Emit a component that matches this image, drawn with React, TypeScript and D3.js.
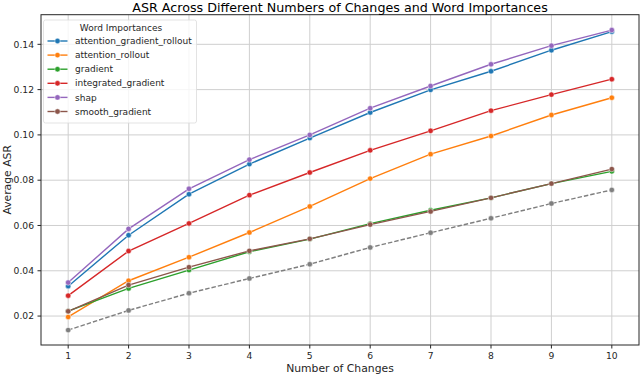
import * as d3 from 'd3';

const changes = [1, 2, 3, 4, 5, 6, 7, 8, 9, 10];

const attentionGradientRollout = [0.0332, 0.0557, 0.0738, 0.0871, 0.0986, 0.1099, 0.1199, 0.1281, 0.1374, 0.1456];
const attentionRollout = [0.0196, 0.0356, 0.0460, 0.0569, 0.0684, 0.0807, 0.0915, 0.0995, 0.1088, 0.1164];
const gradient = [0.0222, 0.0322, 0.0403, 0.0484, 0.0540, 0.0608, 0.0667, 0.0722, 0.0785, 0.0839];
const integratedGradient = [0.0290, 0.0487, 0.0609, 0.0734, 0.0834, 0.0932, 0.1018, 0.1107, 0.1178, 0.1246];
const shap = [0.0348, 0.0585, 0.0762, 0.0891, 0.1000, 0.1118, 0.1216, 0.1312, 0.1394, 0.1463];
const smoothGradient = [0.0221, 0.0337, 0.0416, 0.0488, 0.0541, 0.0604, 0.0662, 0.0722, 0.0785, 0.0849];
const baseline = [0.0138, 0.0225, 0.0301, 0.0366, 0.0429, 0.0503, 0.0568, 0.0632, 0.0697, 0.0757];

const series = [
  {name: 'attention_gradient_rollout', values: attentionGradientRollout, color: '#1f77b4'},
  {name: 'attention_rollout', values: attentionRollout, color: '#ff7f0e'},
  {name: 'gradient', values: gradient, color: '#2ca02c'},
  {name: 'integrated_gradient', values: integratedGradient, color: '#d62728'},
  {name: 'shap', values: shap, color: '#9467bd'},
  {name: 'smooth_gradient', values: smoothGradient, color: '#8c564b'},
];

const yTicks = [0.02, 0.04, 0.06, 0.08, 0.10, 0.12, 0.14];

const W = 640, H = 375;
const m = {left: 41, right: 1, top: 14.7, bottom: 30};
const font = 'DejaVu Sans, sans-serif';

export default function App() {
  const x = d3.scaleLinear().domain([0.55, 10.45]).range([m.left, W - m.right]);
  const y = d3.scaleLinear().domain([0.00722, 0.15308]).range([H - m.bottom, m.top]);
  const line = d3.line<number>().x((_, i) => x(changes[i])).y(d => y(d));

  const all = [...series, {name: 'baseline', values: baseline, color: '#7f7f7f', dashed: true}];

  return (
    <svg width={W} height={H} style={{position: 'absolute', left: 0, top: 0}} fontFamily={font}>
      <rect width={W} height={H} fill="#fff" />
      {/* grid */}
      {changes.map(c => (
        <line key={'gx' + c} x1={x(c)} x2={x(c)} y1={m.top} y2={H - m.bottom} stroke="#cfcfcf" strokeWidth={1} />
      ))}
      {yTicks.map(t => (
        <line key={'gy' + t} x1={m.left} x2={W - m.right} y1={y(t)} y2={y(t)} stroke="#cfcfcf" strokeWidth={1} />
      ))}
      {/* lines */}
      {all.map((s: any) => (
        <g key={s.name}>
          <path d={line(s.values) || ''} fill="none" stroke={s.color} strokeWidth={1.4}
            strokeDasharray={s.dashed ? '4.5,2' : undefined} />
          {s.values.map((v: number, i: number) => (
            <circle key={i} cx={x(changes[i])} cy={y(v)} r={2.7} fill={s.color} stroke="#fff" strokeWidth={0.5} />
          ))}
        </g>
      ))}
      {/* frame */}
      <rect x={m.left} y={m.top} width={W - m.right - m.left} height={H - m.bottom - m.top} fill="none" stroke="#262626" strokeWidth={1} />
      {/* x ticks */}
      {changes.map(c => (
        <g key={'xt' + c}>
          <line x1={x(c)} x2={x(c)} y1={H - m.bottom} y2={H - m.bottom + 3.5} stroke="#262626" />
          <text x={x(c)} y={359} fontSize={9.2} textAnchor="middle" fill="#262626">{c}</text>
        </g>
      ))}
      {yTicks.map(t => (
        <g key={'yt' + t}>
          <line x1={m.left - 3.5} x2={m.left} y1={y(t)} y2={y(t)} stroke="#262626" />
          <text x={m.left - 7} y={y(t)} dy="0.35em" fontSize={9.2} textAnchor="end" fill="#262626">{d3.format('.2f')(t)}</text>
        </g>
      ))}
      <text x={(m.left + W - m.right) / 2} y={372} fontSize={10.8} textAnchor="middle" fill="#262626">Number of Changes</text>
      <text transform={`translate(11,${(m.top + H - m.bottom) / 2}) rotate(-90)`} fontSize={10.8} textAnchor="middle" fill="#262626">Average ASR</text>
      <text x={(m.left + W - m.right) / 2} y={11.5} fontSize={12.7} textAnchor="middle" fill="#000">ASR Across Different Numbers of Changes and Word Importances</text>
      {/* legend */}
      <g>
        <rect x={43.5} y={20} width={153} height={103} rx={2} fill="#fff" fillOpacity={0.8} stroke="#dcdcdc" strokeWidth={0.8} />
        <text x={121} y={30.5} fontSize={9} textAnchor="middle" fill="#262626">Word Importances</text>
        {series.map((s, i) => {
          const ly = 41 + i * 14.1;
          return (
            <g key={'lg' + s.name}>
              <line x1={47.5} x2={67.5} y1={ly} y2={ly} stroke={s.color} strokeWidth={1.4} />
              <circle cx={57.5} cy={ly} r={2.7} fill={s.color} stroke="#fff" strokeWidth={0.5} />
              <text x={75} y={ly} dy="0.35em" fontSize={9} fill="#262626">{s.name}</text>
            </g>
          );
        })}
      </g>
    </svg>
  );
}
